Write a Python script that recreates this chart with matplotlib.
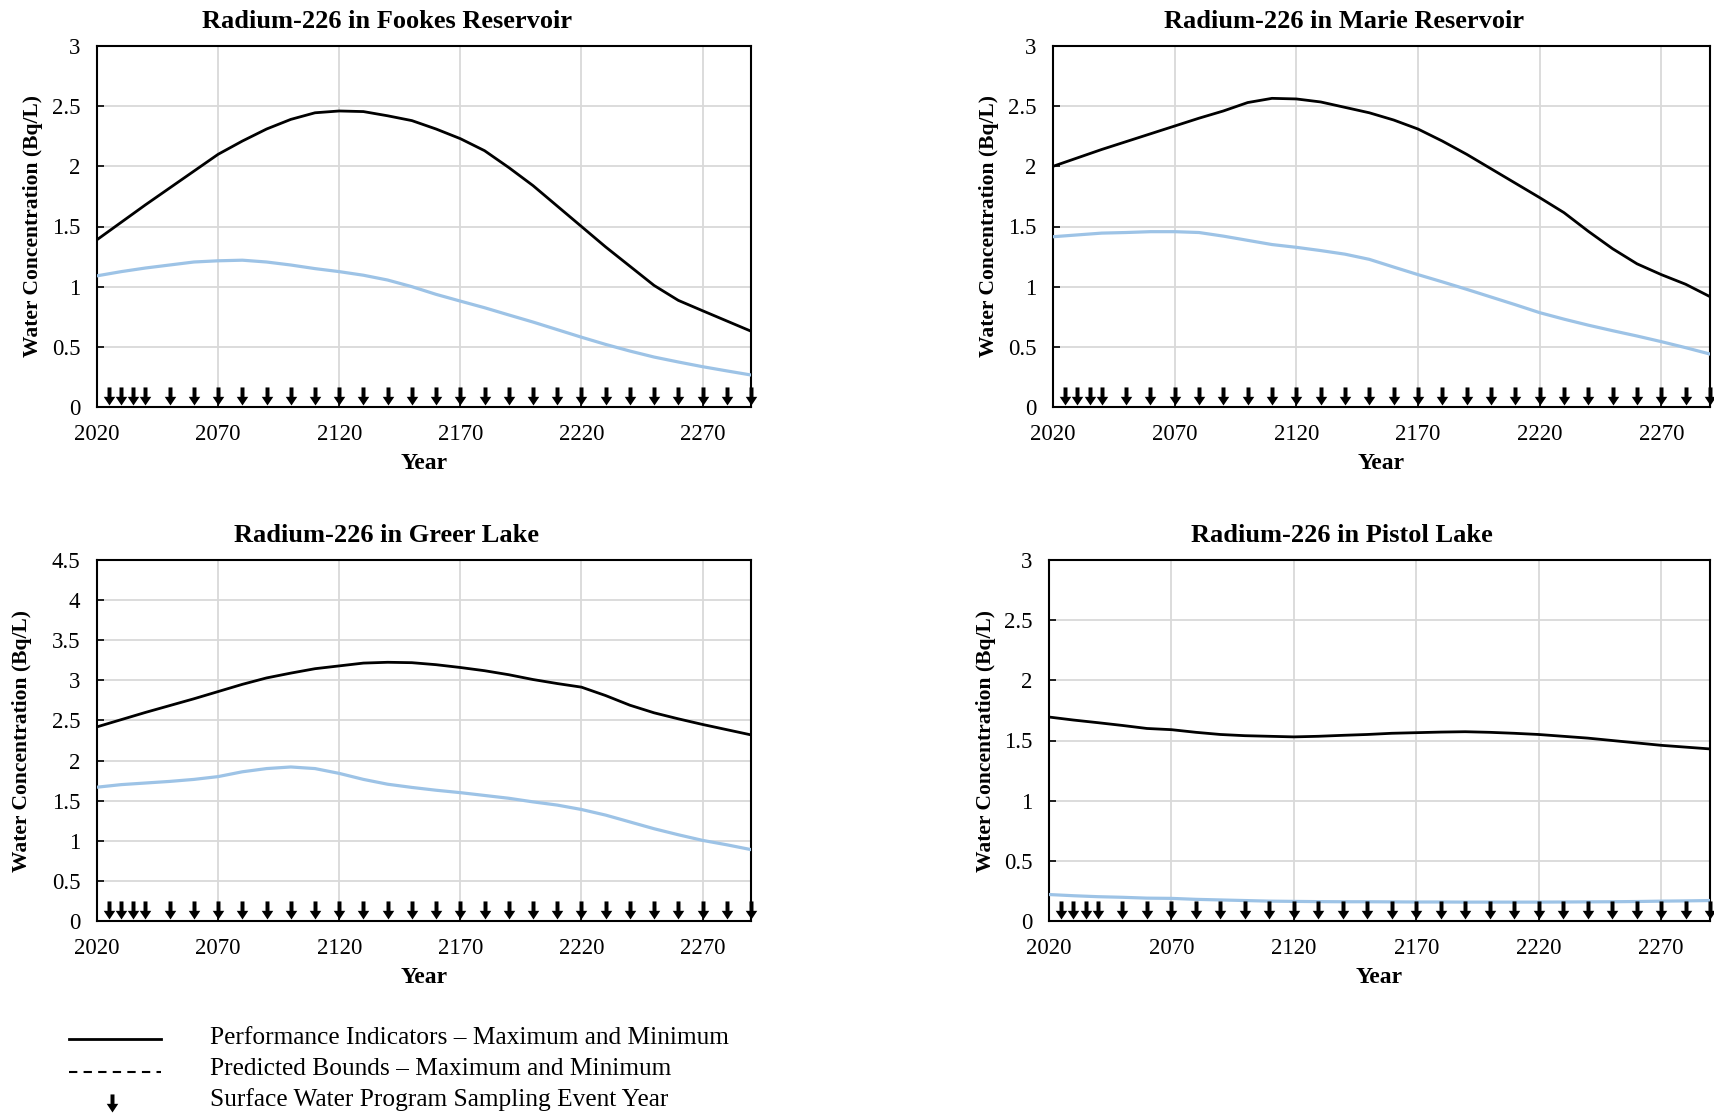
import numpy as np
import matplotlib
matplotlib.use("Agg")
import matplotlib.pyplot as plt
from matplotlib.path import Path
from matplotlib.lines import Line2D
from matplotlib.transforms import ScaledTranslation

plt.rcParams['font.family'] = ['Liberation Serif', 'DejaVu Serif']

# ---------------- data ----------------
years = list(range(2020, 2291, 10))

fookes_max = [1.39, 1.535, 1.68, 1.82, 1.96, 2.10, 2.21, 2.31, 2.39, 2.445, 2.46, 2.455, 2.42, 2.38,
              2.31, 2.23, 2.13, 1.99, 1.84, 1.67, 1.50, 1.33, 1.17, 1.01, 0.886, 0.80, 0.715, 0.63]
fookes_min = [1.09, 1.125, 1.155, 1.18, 1.205, 1.215, 1.22, 1.205, 1.18, 1.15, 1.125, 1.095, 1.055, 1.0,
              0.936, 0.88, 0.825, 0.765, 0.706, 0.643, 0.58, 0.52, 0.465, 0.415, 0.374, 0.335, 0.30, 0.266]

marie_max = [2.0, 2.07, 2.14, 2.205, 2.27, 2.335, 2.40, 2.46, 2.53, 2.565, 2.56, 2.535, 2.49, 2.445,
             2.385, 2.31, 2.21, 2.10, 1.98, 1.86, 1.74, 1.615, 1.46, 1.315, 1.19, 1.10, 1.02, 0.917]
marie_min = [1.415, 1.43, 1.445, 1.45, 1.457, 1.457, 1.45, 1.42, 1.385, 1.35, 1.327, 1.30, 1.27, 1.227,
             1.163, 1.10, 1.04, 0.978, 0.914, 0.85, 0.784, 0.73, 0.68, 0.634, 0.59, 0.543, 0.493, 0.44]

greer_max = [2.42, 2.51, 2.60, 2.685, 2.77, 2.86, 2.95, 3.03, 3.09, 3.145, 3.18, 3.215, 3.225, 3.22,
             3.195, 3.16, 3.12, 3.07, 3.01, 2.96, 2.915, 2.81, 2.69, 2.595, 2.52, 2.45, 2.385, 2.32]
greer_min = [1.668, 1.70, 1.72, 1.74, 1.765, 1.80, 1.86, 1.90, 1.92, 1.90, 1.84, 1.765, 1.705, 1.665,
             1.63, 1.60, 1.565, 1.53, 1.485, 1.445, 1.39, 1.32, 1.235, 1.15, 1.075, 1.005, 0.95, 0.89]

pistol_max = [1.695, 1.67, 1.648, 1.625, 1.60, 1.59, 1.568, 1.55, 1.54, 1.535, 1.53, 1.535, 1.543, 1.55,
              1.56, 1.565, 1.57, 1.573, 1.568, 1.56, 1.55, 1.535, 1.52, 1.50, 1.48, 1.46, 1.445, 1.43]
pistol_min = [0.22, 0.21, 0.202, 0.197, 0.19, 0.188, 0.18, 0.175, 0.17, 0.165, 0.163, 0.161, 0.16, 0.16,
              0.159, 0.158, 0.158, 0.157, 0.157, 0.157, 0.157, 0.158, 0.159, 0.16, 0.162, 0.165, 0.167, 0.17]

sampling_years = [2025, 2030, 2035, 2040] + list(range(2050, 2291, 10))

titles = ["Radium-226 in Fookes Reservoir", "Radium-226 in Marie Reservoir",
          "Radium-226 in Greer Lake", "Radium-226 in Pistol Lake"]
ymaxes = [3.0, 3.0, 4.5, 3.0]
xticks = [2020, 2070, 2120, 2170, 2220, 2270]

legend_labels = ["Performance Indicators \u2013 Maximum and Minimum",
                 "Predicted Bounds \u2013 Maximum and Minimum",
                 "Surface Water Program Sampling Event Year"]

# ---------------- style ----------------
BLACK = "#000000"
BLUE = "#9dc3e6"
GRID = "#d9d9d9"

W, H = 1715, 1115
fig = plt.figure(figsize=(W / 100, H / 100), dpi=100)

def px(l, t, r, b):
    return [l / W, 1 - b / H, (r - l) / W, (b - t) / H]

rects = [px(97, 46, 751, 407), px(1053, 46, 1710, 407),
         px(97, 560, 751, 921), px(1049, 560, 1710, 921)]
ylabel_x = [33, 989, 22, 986]

# arrow marker: tip at origin, pointing down
arrow_verts = [(0, 0), (0.32, 0.48), (0.11, 0.48), (0.11, 1.0), (-0.11, 1.0),
               (-0.11, 0.48), (-0.32, 0.48), (0, 0)]
arrow_codes = [Path.MOVETO] + [Path.LINETO] * 6 + [Path.CLOSEPOLY]
arrow_marker = Path(arrow_verts, arrow_codes)

series = [(fookes_max, fookes_min), (marie_max, marie_min),
          (greer_max, greer_min), (pistol_max, pistol_min)]

for i, (rect, title, ymax, (smax, smin)) in enumerate(zip(rects, titles, ymaxes, series)):
    ax = fig.add_axes(rect)
    ax.set_xlim(2020, 2290)
    ax.set_ylim(0, ymax)
    ax.set_xticks(xticks)
    yt = np.arange(0, ymax + 0.01, 0.5)
    ax.set_yticks(yt)
    ax.set_yticklabels([f"{v:g}" for v in yt])
    ax.grid(True, color=GRID, linewidth=1.3)
    ax.set_axisbelow(True)
    for s in ax.spines.values():
        s.set_linewidth(1.5)
        s.set_color("black")
    ax.tick_params(direction="in", length=5, width=1.2, labelsize=16.5)
    ax.tick_params(axis="x", pad=12)
    ax.tick_params(axis="y", pad=12)
    ax.plot(years, smin, color=BLUE, linewidth=2.3, zorder=3)
    ax.plot(years, smax, color=BLACK, linewidth=2.0, zorder=4)
    ax.plot(sampling_years, [0] * len(sampling_years), linestyle="none",
            marker=arrow_marker, markersize=26, color="black",
            markeredgewidth=0, clip_on=False, zorder=5,
            transform=ax.transData + ScaledTranslation(0, 2 / 100, fig.dpi_scale_trans))
    ax.set_title(title, fontsize=19, fontweight="bold", pad=13, x=0.443)
    ax.set_xlabel("Year", fontsize=17, fontweight="bold", labelpad=6)
    l, b, w, h = rect
    fig.text(ylabel_x[i] / W, b + h / 2, "Water Concentration (Bq/L)", rotation=90,
             ha="center", va="center", fontsize=15.5, fontweight="bold")

# ---------------- legend ----------------
fig.add_artist(Line2D([69 / W, 161 / W], [1 - 1039 / H] * 2, color="black", linewidth=2.0))
fig.add_artist(Line2D([69 / W, 161 / W], [1 - 1072 / H] * 2, color="black", linewidth=1.5,
                      linestyle=(0, (4, 3))))
fig.add_artist(Line2D([112 / W], [1 - 1112 / H], marker=arrow_marker, markersize=26,
                      color="black", markeredgewidth=0, linestyle="none"))
for lab, y in zip(legend_labels, [1038, 1069, 1100]):
    fig.text(210 / W, 1 - y / H, lab, ha="left", va="center", fontsize=18.3)

fig.savefig("out.png", dpi=100)
